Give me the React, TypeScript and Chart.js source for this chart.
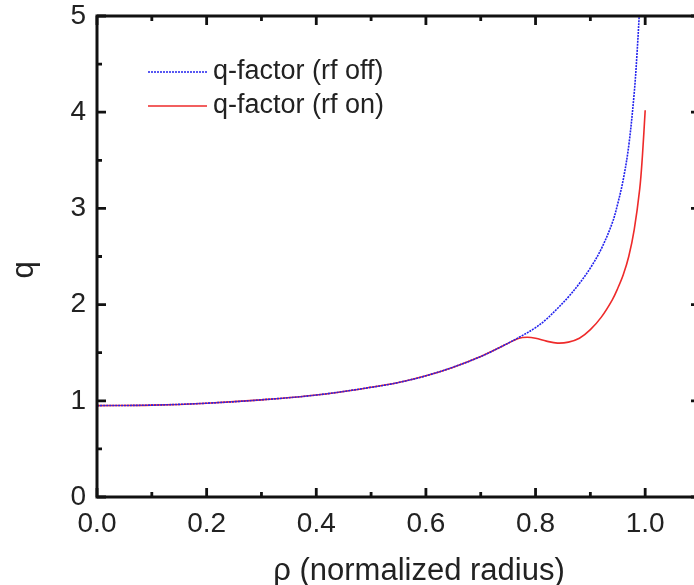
import React, { useEffect, useRef } from "react";
import { Chart, registerables } from "chart.js";

Chart.register(...registerables);

// q profile without rf
const rhoOff = [0, 0.1, 0.2, 0.3, 0.4, 0.5, 0.55, 0.6, 0.65, 0.7, 0.74, 0.77, 0.8, 0.82, 0.84, 0.86, 0.88, 0.9, 0.92, 0.94, 0.95, 0.96, 0.97, 0.98, 0.985, 0.99, 1.0];
const qOff = [0.95, 0.955, 0.975, 1.01, 1.06, 1.14, 1.19, 1.26, 1.35, 1.46, 1.57, 1.66, 1.76, 1.85, 1.96, 2.08, 2.22, 2.38, 2.58, 2.85, 3.05, 3.3, 3.65, 4.2, 4.6, 5.1, 6.2];

// q profile with rf
const rhoOn = [0, 0.1, 0.2, 0.3, 0.4, 0.5, 0.55, 0.6, 0.65, 0.7, 0.74, 0.77, 0.785, 0.8, 0.82, 0.84, 0.86, 0.88, 0.9, 0.92, 0.94, 0.95, 0.96, 0.97, 0.98, 0.99, 0.995, 1.0];
const qOn = [0.95, 0.955, 0.975, 1.01, 1.06, 1.14, 1.19, 1.26, 1.35, 1.46, 1.57, 1.65, 1.66, 1.65, 1.62, 1.6, 1.61, 1.65, 1.74, 1.87, 2.05, 2.17, 2.31, 2.5, 2.78, 3.2, 3.55, 4.02];

const xMajorTicks = [0, 0.2, 0.4, 0.6, 0.8, 1.0];
const xMinorTicks = [0.1, 0.3, 0.5, 0.7, 0.9];
const yMajorTicks = [0, 1, 2, 3, 4, 5];
const yMinorTicks = [0.5, 1.5, 2.5, 3.5, 4.5];

const xTitle = "ρ (normalized radius)";
const yTitle = "q";

const FONT = "'Liberation Sans', Arial, sans-serif";

const framePlugin = {
  id: "frame",
  afterDatasetsDraw(chart: any) {
    const { ctx, chartArea, scales } = chart;
    const { left, right, top, bottom } = chartArea;
    const x = scales.x;
    const y = scales.y;
    const major = 9;
    const minor = 5;
    ctx.save();
    ctx.strokeStyle = "#111";
    ctx.lineWidth = 2.8;
    ctx.beginPath();
    const xt = (v: number, len: number) => {
      const px = x.getPixelForValue(v);
      ctx.moveTo(px, bottom);
      ctx.lineTo(px, bottom - len);
      ctx.moveTo(px, top);
      ctx.lineTo(px, top + len);
    };
    const yt = (v: number, len: number) => {
      const py = y.getPixelForValue(v);
      ctx.moveTo(left, py);
      ctx.lineTo(left + len, py);
      ctx.moveTo(right, py);
      ctx.lineTo(right - len, py);
    };
    xMajorTicks.forEach((v) => xt(v, major));
    xMinorTicks.forEach((v) => xt(v, minor));
    yMajorTicks.forEach((v) => yt(v, major));
    yMinorTicks.forEach((v) => yt(v, minor));
    ctx.stroke();

    ctx.lineWidth = 3;
    ctx.strokeRect(left, top, right - left, bottom - top);

    // legend
    ctx.font = `27px ${FONT}`;
    ctx.textBaseline = "middle";
    ctx.textAlign = "left";
    const rows = [72, 106];
    chart.data.datasets.forEach((ds: any, i: number) => {
      const yy = rows[i];
      ctx.save();
      ctx.strokeStyle = ds.borderColor;
      ctx.lineWidth = ds.borderWidth;
      ctx.setLineDash(ds.borderDash || []);
      ctx.beginPath();
      ctx.moveTo(148, yy);
      ctx.lineTo(207, yy);
      ctx.stroke();
      ctx.restore();
      ctx.fillStyle = "#222";
      ctx.fillText(ds.label, 213, yy);
    });

    // axis titles
    ctx.fillStyle = "#222";
    ctx.font = `31px ${FONT}`;
    ctx.textAlign = "center";
    ctx.fillText(xTitle, 419, 571);
    ctx.save();
    ctx.translate(24, 270);
    ctx.rotate(-Math.PI / 2);
    ctx.fillText(yTitle, 0, 0);
    ctx.restore();
    ctx.restore();
  },
};

export default function App() {
  const ref = useRef<HTMLCanvasElement>(null);

  useEffect(() => {
    if (!ref.current) return;
    const chart = new Chart(ref.current, {
      type: "line",
      data: {
        datasets: [
          {
            label: "q-factor (rf off)",
            data: rhoOff.map((r, i) => ({ x: r, y: qOff[i] })),
            borderColor: "#2222ee",
            borderWidth: 1.6,
            borderDash: [2, 1],
            pointRadius: 0,
            tension: 0.35,
          },
          {
            label: "q-factor (rf on)",
            data: rhoOn.map((r, i) => ({ x: r, y: qOn[i] })),
            borderColor: "#ee2a2a",
            borderWidth: 1.6,
            pointRadius: 0,
            tension: 0.35,
          },
        ],
      },
      options: {
        responsive: false,
        animation: false,
        layout: { padding: { top: 16, right: 4, left: 0, bottom: 0 } },
        plugins: { legend: { display: false }, tooltip: { enabled: false } },
        scales: {
          x: {
            type: "linear",
            min: 0,
            max: 1.1,
            grid: { display: false },
            border: { display: false },
            afterBuildTicks: (s: any) => {
              s.ticks = xMajorTicks.map((v) => ({ value: v }));
            },
            afterFit: (s: any) => {
              s.height = 88;
              s.paddingLeft = 0;
              s.paddingRight = 0;
            },
            ticks: {
              padding: 2,
              color: "#222",
              font: { family: FONT, size: 28 },
              maxRotation: 0,
              callback: (v: any) => Number(v).toFixed(1),
            },
          },
          y: {
            type: "linear",
            min: 0,
            max: 5,
            grid: { display: false },
            border: { display: false },
            afterBuildTicks: (s: any) => {
              s.ticks = yMajorTicks.map((v) => ({ value: v }));
            },
            afterFit: (s: any) => {
              s.width = 97;
              s.paddingTop = 0;
              s.paddingBottom = 0;
            },
            ticks: {
              padding: 3,
              color: "#222",
              font: { family: FONT, size: 28 },
              callback: (v: any) => String(v),
            },
          },
        },
      },
      plugins: [framePlugin],
    });
    return () => chart.destroy();
  }, []);

  return (
    <div
      style={{
        position: "fixed",
        left: 0,
        top: 0,
        width: 694,
        height: 585,
        overflow: "hidden",
        background: "#fff",
      }}
    >
      <canvas ref={ref} width={704} height={585} style={{ display: "block" }} />
    </div>
  );
}
